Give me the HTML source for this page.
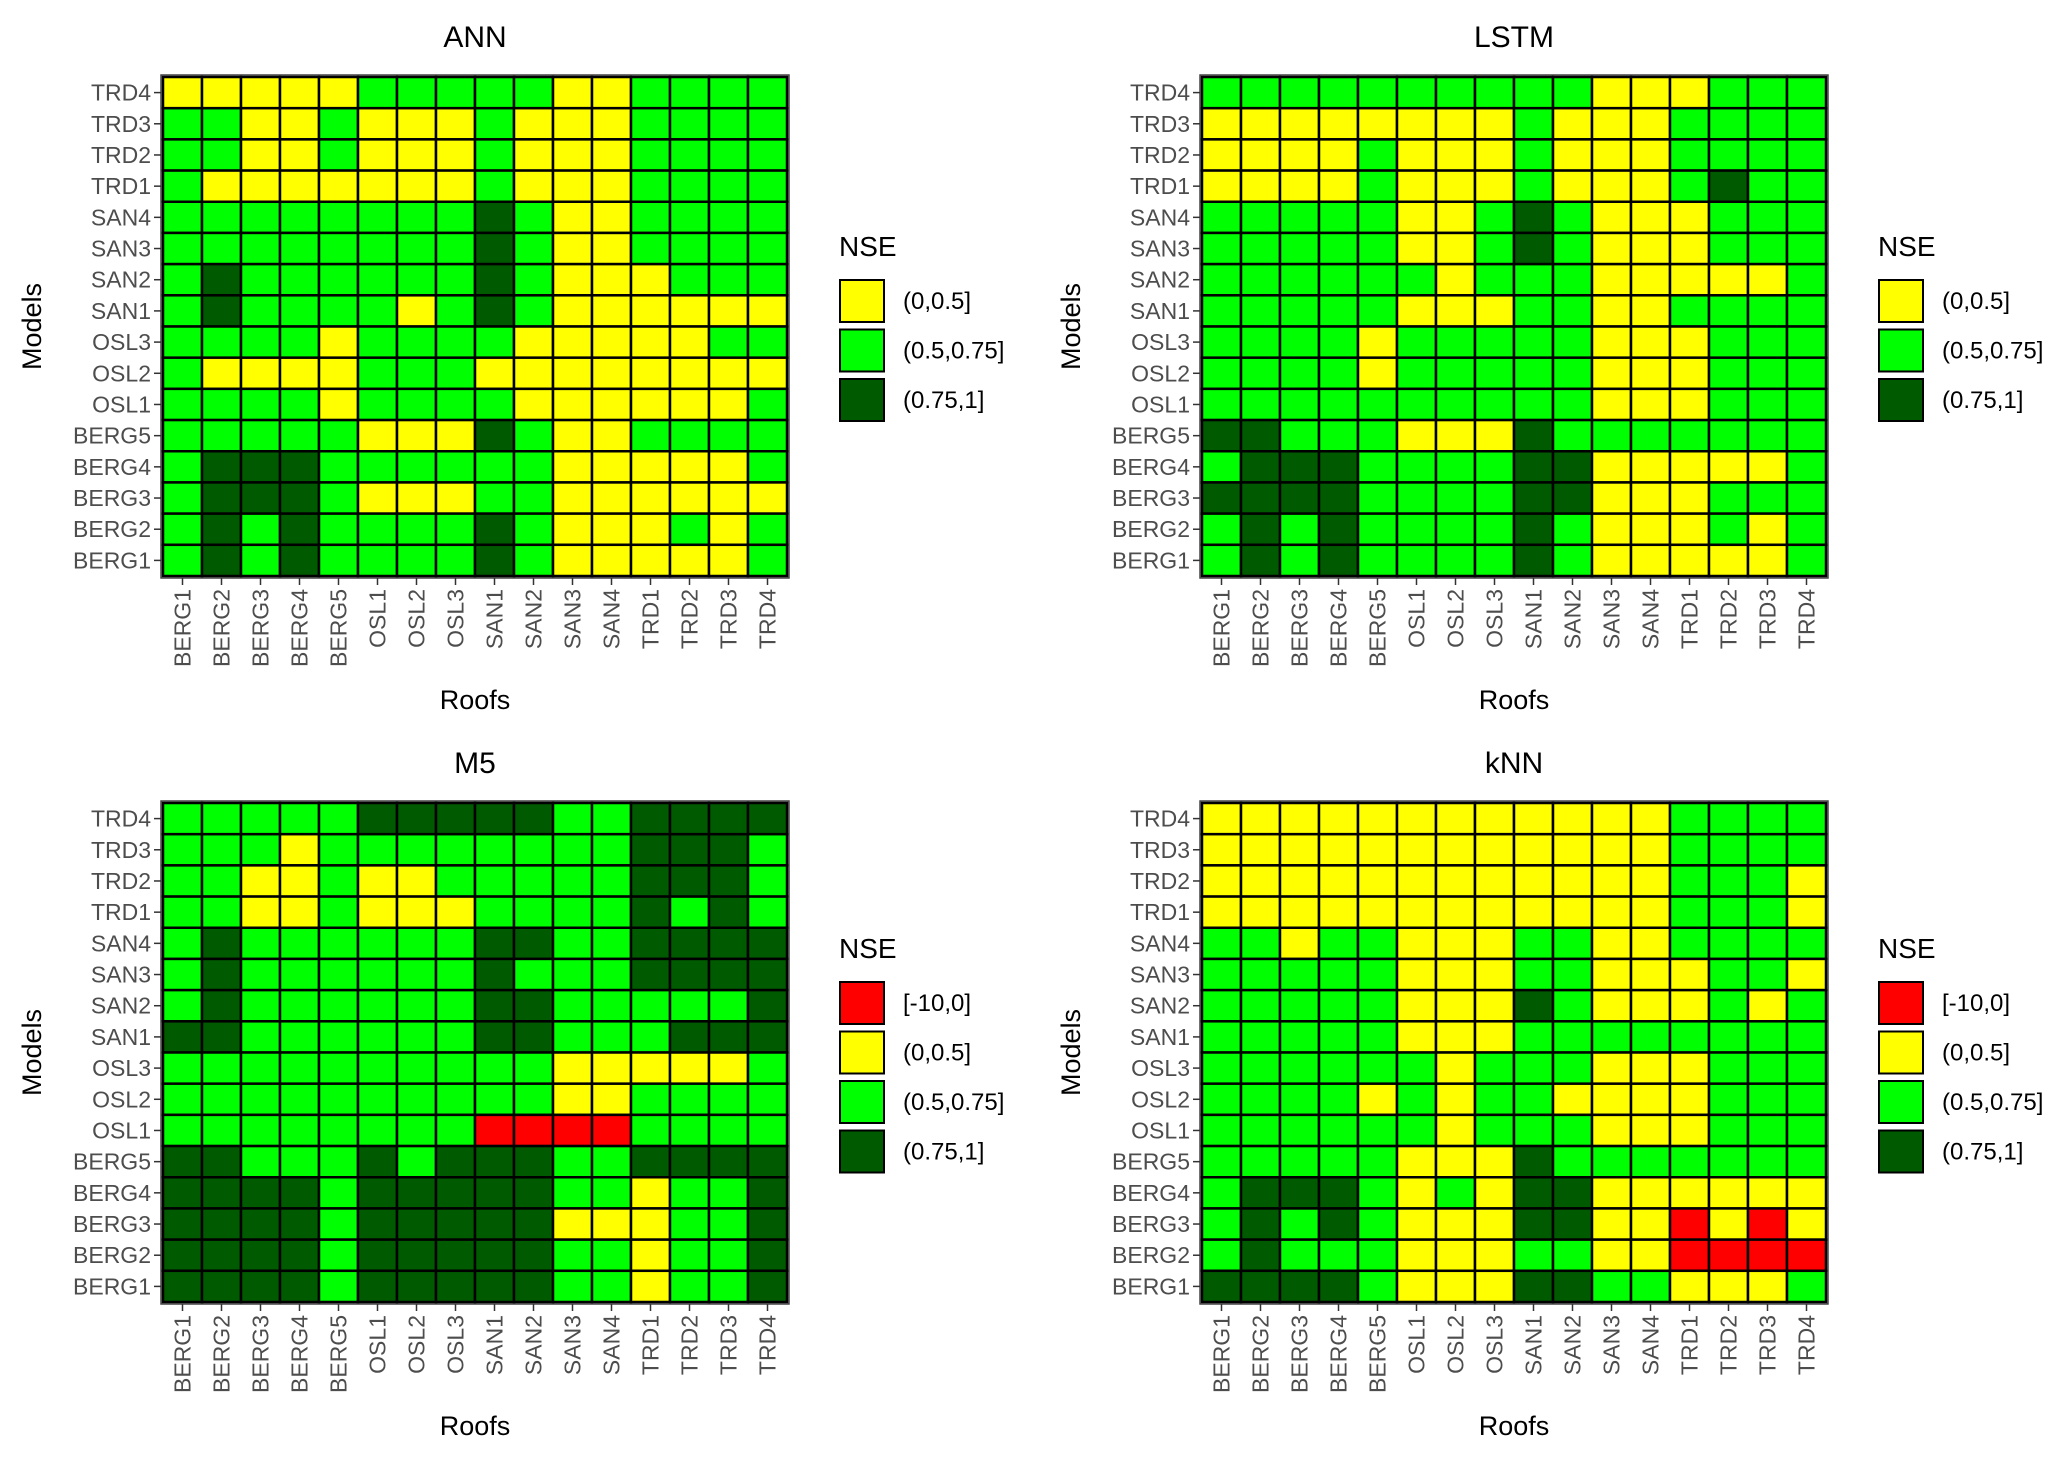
<!DOCTYPE html>
<html><head><meta charset="utf-8"><style>
html,body{margin:0;padding:0;background:#fff;}
svg{display:block;font-family:"Liberation Sans",Arial,sans-serif;}
</style></head><body>
<svg id="chart" width="2067" height="1460" viewBox="0 0 2067 1460" xmlns="http://www.w3.org/2000/svg"></svg>
<script>
const roofs = ["BERG1","BERG2","BERG3","BERG4","BERG5","OSL1","OSL2","OSL3","SAN1","SAN2","SAN3","SAN4","TRD1","TRD2","TRD3","TRD4"];
const models = ["TRD4","TRD3","TRD2","TRD1","SAN4","SAN3","SAN2","SAN1","OSL3","OSL2","OSL1","BERG5","BERG4","BERG3","BERG2","BERG1"];
const annCells = ["YYYYYGGGGGYYGGGG","GGYYGYYYGYYYGGGG","GGYYGYYYGYYYGGGG","GYYYYYYYGYYYGGGG","GGGGGGGGDGYYGGGG","GGGGGGGGDGYYGGGG","GDGGGGGGDGYYYGGG","GDGGGGYGDGYYYYYY","GGGGYGGGGYYYYYGG","GYYYYGGGYYYYYYYY","GGGGYGGGGYYYYYYG","GGGGGYYYDGYYGGGG","GDDDGGGGGGYYYYYG","GDDDGYYYGGYYYYYY","GDGDGGGGDGYYYGYG","GDGDGGGGDGYYYYYG"];
const lstmCells = ["GGGGGGGGGGYYYGGG","YYYYYYYYGYYYGGGG","YYYYGYYYGYYYGGGG","YYYYGYYYGYYYGDGG","GGGGGYYGDGYYYGGG","GGGGGYYGDGYYYGGG","GGGGGGYGGGYYYYYG","GGGGGYYYGGYYGGGG","GGGGYGGGGGYYYGGG","GGGGYGGGGGYYYGGG","GGGGGGGGGGYYYGGG","DDGGGYYYDGGGGGGG","GDDDGGGGDDYYYYYG","DDDDGGGGDDYYYGGG","GDGDGGGGDGYYYGYG","GDGDGGGGDGYYYYYG"];
const m5Cells = ["GGGGGDDDDDGGDDDD","GGGYGGGGGGGGDDDG","GGYYGYYGGGGGDDDG","GGYYGYYYGGGGDGDG","GDGGGGGGDDGGDDDD","GDGGGGGGDGGGDDDD","GDGGGGGGDDGGGGGD","DDGGGGGGDDGGGDDD","GGGGGGGGGGYYYYYG","GGGGGGGGGGYYGGGG","GGGGGGGGRRRRGGGG","DDGGGDGDDDGGDDDD","DDDDGDDDDDGGYGGD","DDDDGDDDDDYYYGGD","DDDDGDDDDDGGYGGD","DDDDGDDDDDGGYGGD"];
const knnCells = ["YYYYYYYYYYYYGGGG","YYYYYYYYYYYYGGGG","YYYYYYYYYYYYGGGY","YYYYYYYYYYYYGGGY","GGYGGYYYGGYYGGGG","GGGGGYYYGGYYYGGY","GGGGGYYYDGYYYGYG","GGGGGYYYGGGGGGGG","GGGGGGYGGGYYYGGG","GGGGYGYGGYYYYGGG","GGGGGGYGGGYYYGGG","GGGGGYYYDGGGGGGG","GDDDGYGYDDYYYYYY","GDGDGYYYDDYYRYRY","GDGGGYYYGGYYRRRR","DDDDGYYYDDGGYYYG"];
const legend3 = ["(0,0.5]","(0.5,0.75]","(0.75,1]"];
const legend4 = ["[-10,0]","(0,0.5]","(0.5,0.75]","(0.75,1]"];
const colors = {R:"#FF0000",Y:"#FFFF00",G:"#00FF00",D:"#005A00"};
const legendColors3 = ["Y","G","D"];
const legendColors4 = ["R","Y","G","D"];

const svg = document.getElementById('chart');
const NS = "http://www.w3.org/2000/svg";
function mk(tag, attrs, parent){const e=document.createElementNS(NS,tag);for(const k in attrs)e.setAttribute(k,attrs[k]);parent.appendChild(e);return e;}

function panel(title, cells, ox, oy, legLabels, legCols, key){
  const g = mk('g',{},svg);
  
  
  const gx=ox, gy=oy, gw=624, gh=499;
  const cw=gw/roofs.length, ch=gh/models.length;
  const xs = i => gx + i*cw;
  const ys = j => gy + j*ch;
  const t = mk('text',{x:gx+gw/2,y:oy-30,'text-anchor':'middle','font-size':30,fill:'#000'},g);
  t.textContent=title;
  
  
  mk('rect',{x:gx-2,y:gy-2,width:gw+4,height:gh+4,fill:'none',stroke:'#444','stroke-width':1.5},g);
  for(let j=0;j<models.length;j++){
    for(let i=0;i<roofs.length;i++){
      const c = cells[j][i];
      const r = mk('rect',{x:xs(i),y:ys(j),width:cw,height:ch,fill:colors[c],stroke:'#000','stroke-width':2.5},g);
      
      
    }
  }
  for(let j=0;j<models.length;j++){
    const y=ys(j)+ch/2;
    mk('line',{x1:gx-9,x2:gx-2,y1:y,y2:y,stroke:'#333','stroke-width':1.5},g);
    const l=mk('text',{x:gx-12,y:y+8,'text-anchor':'end','font-size':23,fill:'#4d4d4d'},g);
    l.textContent=models[j];
    
    
  }
  for(let i=0;i<roofs.length;i++){
    const x=xs(i)+cw/2;
    mk('line',{x1:x,x2:x,y1:gy+gh+2,y2:gy+gh+9,stroke:'#333','stroke-width':1.5},g);
    const l=mk('text',{x:0,y:0,'text-anchor':'end','font-size':23,fill:'#4d4d4d',transform:`translate(${x+8},${gy+gh+13}) rotate(-90)`},g);
    l.textContent=roofs[i];
    
    
  }
  const xt=mk('text',{x:gx+gw/2,y:gy+gh+133,'text-anchor':'middle','font-size':27,fill:'#000'},g);
  xt.textContent='Roofs';
  
  
  const yt=mk('text',{x:0,y:0,'text-anchor':'middle','font-size':27,fill:'#000',transform:`translate(${gx-122},${gy+gh/2}) rotate(-90)`},g);
  yt.textContent='Models';
  
  
  const lx=gx+676;
  const n=legLabels.length;
  const ly0 = n===3 ? gy+203 : gy+179;
  const lt=mk('text',{x:lx,y:ly0-24,'font-size':28,fill:'#000'},g);
  lt.textContent='NSE';
  
  
  for(let k=0;k<n;k++){
    const y=ly0+k*49.5;
    const r=mk('rect',{x:lx+1,y:y,width:44,height:42,fill:colors[legCols[k]],stroke:'#000','stroke-width':2},g);
    
    
    const tx=mk('text',{x:lx+64,y:y+29,'font-size':24,fill:'#000'},g);
    tx.textContent=legLabels[k];
    
    
  }
}
panel("ANN", annCells, 163, 77, legend3, legendColors3, 'ann');
panel("LSTM", lstmCells, 1202, 77, legend3, legendColors3, 'lstm');
panel("M5", m5Cells, 163, 803, legend4, legendColors4, 'm5');
panel("kNN", knnCells, 1202, 803, legend4, legendColors4, 'knn');
</script>
</body></html>
